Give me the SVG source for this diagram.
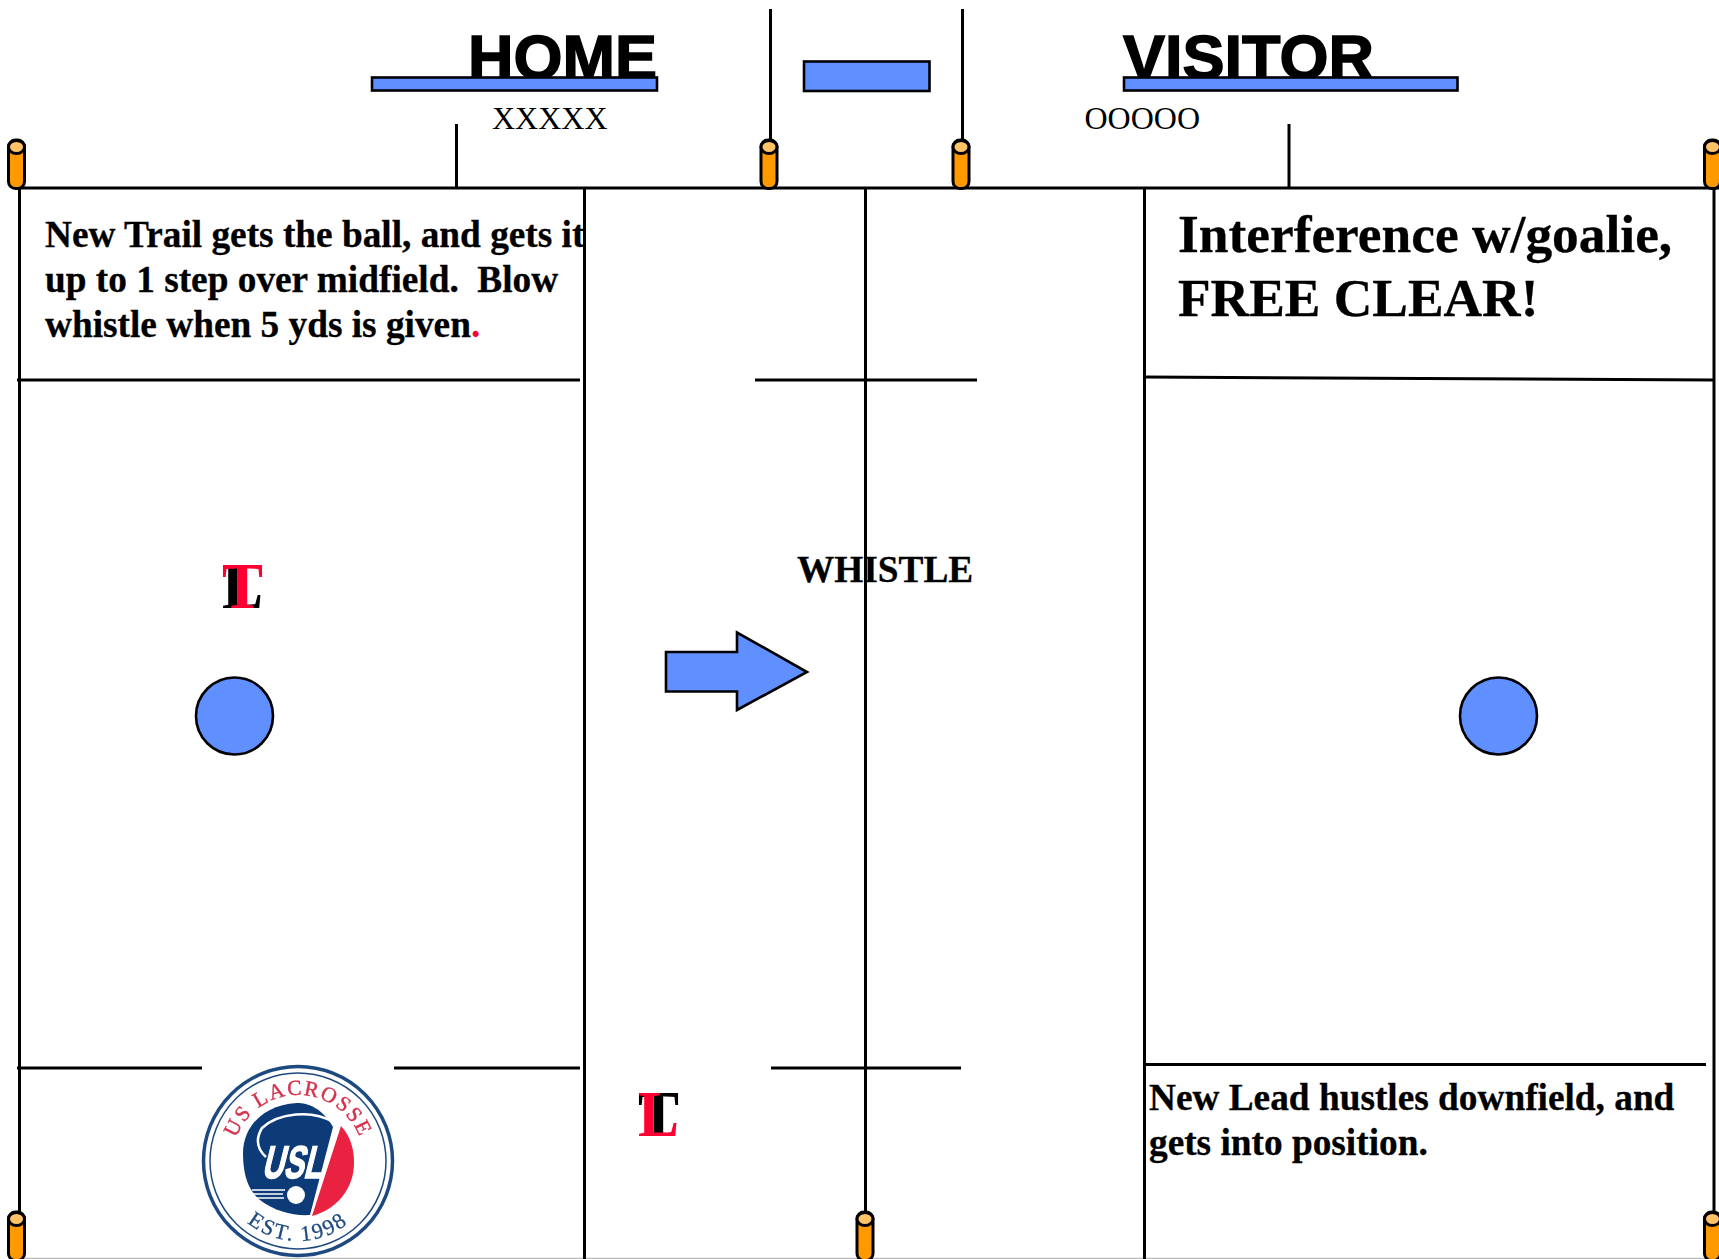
<svg xmlns="http://www.w3.org/2000/svg" width="1719" height="1259" viewBox="0 0 1719 1259">
<style>
.ln{stroke:#000;stroke-width:3;fill:none}
.bl{fill:#6090ff;stroke:#000;stroke-width:2.6}
.body{fill:#ff9900;stroke:#000;stroke-width:3}
.cap{fill:#ffc266;stroke:#000;stroke-width:3}
text{font-family:"Liberation Serif","Times New Roman",serif;fill:#000;white-space:pre}
.h{font-family:"Liberation Sans",Arial,sans-serif;font-weight:bold;font-size:63px;stroke:#000;stroke-width:1.5}
.n{font-size:37.3px;font-weight:bold;stroke:#000;stroke-width:.3}
.big{font-size:53.4px;font-weight:bold;stroke:#000;stroke-width:.3}
.t{font-size:65px;font-weight:bold}
.r{fill:#ff0033;stroke:none}
.s{font-size:32px}
</style>
<defs>
<g id="cone">
<rect class="body" x="-8" y="0" width="16" height="48.5" rx="7" ry="7"/>
<ellipse class="cap" cx="0" cy="7" rx="8" ry="6.5"/>
</g>
<path id="arcTop" d="M232 1161A66 66 0 0 1 364 1161"/>
<path id="arcBot" d="M218 1161A80 80 0 0 0 378 1161"/>
<filter id="soft"><feGaussianBlur stdDeviation="0.6"/></filter>
</defs>
<rect width="1719" height="1259" fill="#fff"/>

<g id="connectors">
<line class="ln" x1="18" y1="188" x2="1719" y2="188"/>
<line x1="25" y1="1258.5" x2="1719" y2="1258.5" stroke="#bbb" stroke-width="1.5"/>
<line class="ln" x1="19.5" y1="188" x2="19.5" y2="1215"/>
<line class="ln" x1="584.5" y1="188" x2="584.5" y2="1259"/>
<line class="ln" x1="865.5" y1="188" x2="865.5" y2="1215"/>
<line class="ln" x1="1144.5" y1="188" x2="1144.5" y2="1259"/>
<line class="ln" x1="1714" y1="188" x2="1714" y2="1215"/>
<line class="ln" x1="17" y1="380" x2="580" y2="380"/>
<line class="ln" x1="755" y1="380" x2="977" y2="380"/>
<line class="ln" x1="1145" y1="377" x2="1714" y2="380"/>
<line class="ln" x1="17" y1="1068" x2="202" y2="1068"/>
<line class="ln" x1="394" y1="1068" x2="580" y2="1068"/>
<line class="ln" x1="771" y1="1068" x2="961" y2="1068"/>
<line class="ln" x1="1145" y1="1064.5" x2="1706" y2="1064.5"/>
<line class="ln" x1="456.5" y1="124" x2="456.5" y2="188"/>
<line class="ln" x1="770.5" y1="9" x2="770.5" y2="140"/>
<line class="ln" x1="962.5" y1="9" x2="962.5" y2="140"/>
<line class="ln" x1="1289" y1="124" x2="1289" y2="188"/>
</g>

<g id="home-label"><text class="h" x="468" y="79">HOME</text></g>
<g id="visitor-label"><text class="h" x="1123" y="79">VISITOR</text></g>
<g id="home-bench"><rect class="bl" x="372" y="77.5" width="285" height="13"/></g>
<g id="table"><rect class="bl" x="804" y="61.5" width="125.5" height="29.5"/></g>
<g id="visitor-bench"><rect class="bl" x="1124" y="77.5" width="333.5" height="13"/></g>
<g id="home-team"><text class="s" x="492" y="129">XXXXX</text></g>
<g id="visitor-team"><text class="s" x="1084.5" y="129">OOOOO</text></g>

<g id="cone-1"><use href="#cone" x="16.5" y="140"/></g>
<g id="cone-2"><use href="#cone" x="769" y="140"/></g>
<g id="cone-3"><use href="#cone" x="961" y="140"/></g>
<g id="cone-4"><use href="#cone" x="1712.5" y="140"/></g>
<g id="cone-5"><use href="#cone" x="16.5" y="1212"/></g>
<g id="cone-6"><use href="#cone" x="865" y="1212"/></g>
<g id="cone-7"><use href="#cone" x="1712.5" y="1212"/></g>

<g id="note-left"><text class="n" x="45" y="247">New Trail gets the ball, and gets it</text>
<text class="n" x="45" y="292">up to 1 step over midfield.  Blow</text>
<text class="n" x="45" y="337">whistle when 5 yds is given<tspan class="r">.</tspan></text></g>
<g id="note-right"><text class="big" x="1178" y="252">Interference w/goalie,</text>
<text class="big" x="1178" y="316">FREE CLEAR!</text></g>
<g id="note-lower"><text class="n" x="1149" y="1110">New Lead hustles downfield, and</text>
<text class="n" x="1149" y="1155">gets into position.</text></g>
<g id="whistle"><text class="n" x="797" y="582">WHISTLE</text></g>

<g id="official-trail"><text class="t" x="222" y="607.5" textLength="41" lengthAdjust="spacingAndGlyphs">L</text><text class="t r" x="222" y="607.5" textLength="41" lengthAdjust="spacingAndGlyphs">T</text></g>
<g id="official-lead"><text class="t" x="638" y="1136" textLength="41" lengthAdjust="spacingAndGlyphs">T</text><text class="t r" x="638" y="1136" textLength="41" lengthAdjust="spacingAndGlyphs">L</text></g>

<g id="circle-left"><circle class="bl" cx="234.5" cy="716" r="38.5"/></g>
<g id="circle-right"><circle class="bl" cx="1498.5" cy="716" r="38.5"/></g>
<g id="arrow"><polygon class="bl" points="666,652 737,652 737,632.5 807,672 737,710 737,691.5 666,691.5"/></g>

<g id="logo" filter="url(#soft)">
<circle cx="298" cy="1161" r="94.5" fill="#fff" stroke="#1f4a80" stroke-width="3.5"/>
<circle cx="298" cy="1161" r="88" fill="none" stroke="#1f4a80" stroke-width="1.5"/>
<path d="M333 1127C322 1108 308 1103 297 1103C262 1105 243 1128 243 1153C243 1178 250 1192 260 1200C274 1211 293 1216 310 1215Z" fill="#0f3a78"/>
<path d="M341 1126C352 1138 354 1152 354 1163C354 1190 335 1210 312 1216Z" fill="#e8203f"/>
<path d="M266 1157C256 1148 256 1138 262 1128C278 1113 312 1109 333 1122" fill="none" stroke="#fff" stroke-width="2.5"/>
<path d="M252 1190H285M253 1194H283M255 1198H284" stroke="#fff" stroke-width="1.5" fill="none"/>
<circle cx="296" cy="1195" r="9" fill="#fff"/>
<text x="295" y="1178" text-anchor="middle" transform="skewX(-14) translate(290 0)" style="font-family:'Liberation Sans',sans-serif;font-weight:bold;font-size:46px;fill:#fff;stroke:#fff;stroke-width:1.5" textLength="60" lengthAdjust="spacingAndGlyphs">USL</text>
<text style="font-size:21.5px;fill:#d4304c;letter-spacing:1.6px;stroke:#d4304c;stroke-width:.4"><textPath href="#arcTop" startOffset="50%" text-anchor="middle">US LACROSSE</textPath></text>
<text style="font-size:22px;fill:#1f4a80;letter-spacing:2px;stroke:#1f4a80;stroke-width:.3"><textPath href="#arcBot" startOffset="50%" text-anchor="middle">EST. 1998</textPath></text>
</g>
</svg>
